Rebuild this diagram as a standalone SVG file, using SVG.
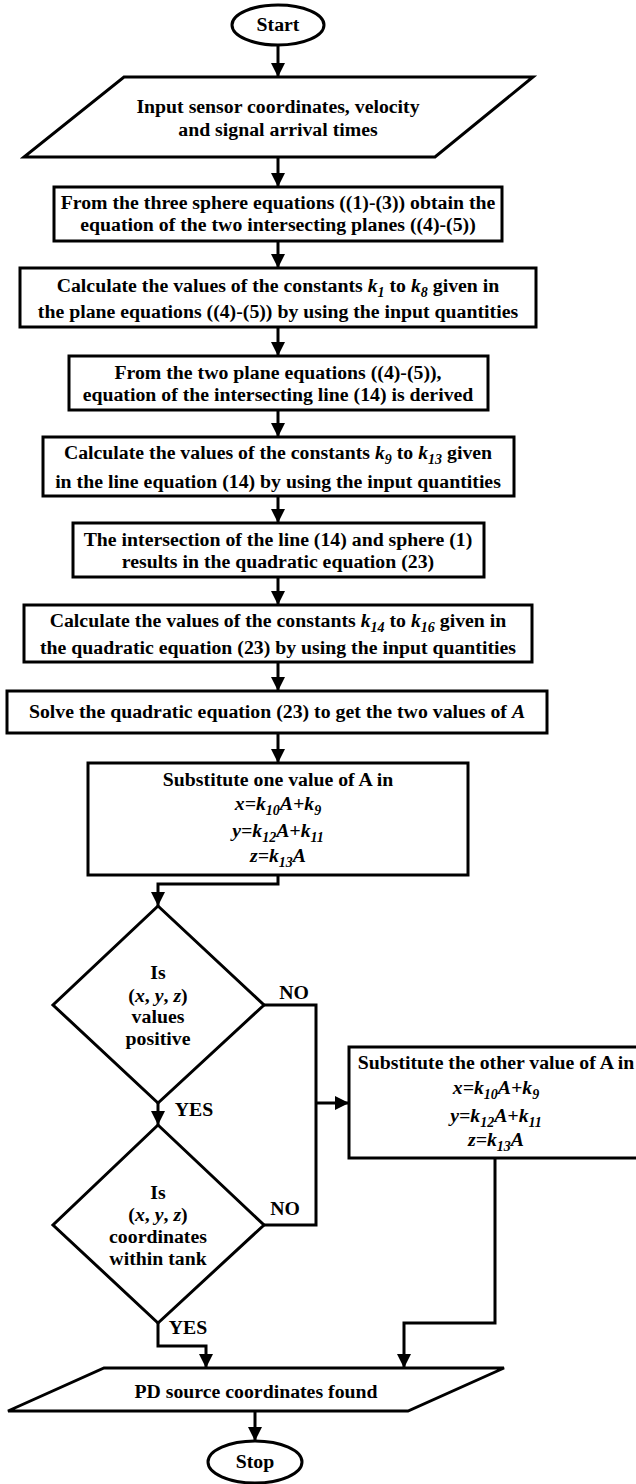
<svg xmlns="http://www.w3.org/2000/svg" width="636" height="1484" viewBox="0 0 636 1484">
<style>
  .shape{fill:#fff;stroke:#000;stroke-width:3;}
  .t{font-family:"Liberation Serif","Times New Roman",serif;font-weight:bold;font-size:19.8px;fill:#000;text-anchor:middle;}
  .i{font-style:italic;}
  .sub{font-size:14px;font-style:italic;}
  .conn{fill:none;stroke:#000;stroke-width:3;}
</style>
<defs>
  <marker id="arr" markerUnits="userSpaceOnUse" viewBox="0 0 14 14" refX="14" refY="7" markerWidth="14" markerHeight="14" orient="auto">
    <path d="M0,0 L14,7 L0,14 z" fill="#000"/>
  </marker>
</defs>
<rect width="636" height="1484" fill="#fff"/>

<g id="connectors">
  <path class="conn" d="M278,45 V77" marker-end="url(#arr)"/>
  <path class="conn" d="M278,157 V187" marker-end="url(#arr)"/>
  <path class="conn" d="M278,241 V268" marker-end="url(#arr)"/>
  <path class="conn" d="M278,327 V356" marker-end="url(#arr)"/>
  <path class="conn" d="M278,410 V437" marker-end="url(#arr)"/>
  <path class="conn" d="M278,496 V523" marker-end="url(#arr)"/>
  <path class="conn" d="M278,577 V605" marker-end="url(#arr)"/>
  <path class="conn" d="M278,662 V691" marker-end="url(#arr)"/>
  <path class="conn" d="M278,733 V763" marker-end="url(#arr)"/>
  <path class="conn" d="M278,875 V884 H158 V906" marker-end="url(#arr)"/>
  <path class="conn" d="M264,1005 H316 V1103"/>
  <path class="conn" d="M264,1225 H316 V1103"/>
  <path class="conn" d="M316,1103 H349" marker-end="url(#arr)"/>
  <path class="conn" d="M158,1103 V1125" marker-end="url(#arr)"/>
  <path class="conn" d="M158,1323 V1346 H206 V1368" marker-end="url(#arr)"/>
  <path class="conn" d="M495,1158 V1323 H404 V1368" marker-end="url(#arr)"/>
  <path class="conn" d="M255,1411 V1441" marker-end="url(#arr)"/>
  <text class="t" x="294" y="999">NO</text>
  <text class="t" x="194" y="1116">YES</text>
  <text class="t" x="285" y="1215">NO</text>
  <text class="t" x="188" y="1334">YES</text>
</g>

<g id="start">
  <ellipse class="shape" cx="278" cy="25" rx="46" ry="20"/>
  <text class="t" x="278" y="31">Start</text>
</g>

<g id="input">
  <polygon class="shape" points="124,77 533,77 435,157 24,157"/>
  <text class="t" x="278" y="113">Input sensor coordinates, velocity</text>
  <text class="t" x="278" y="136">and signal arrival times</text>
</g>

<g id="box1">
  <rect class="shape" x="54" y="187" width="448" height="54"/>
  <text class="t" x="278" y="209">From the three sphere equations ((1)-(3)) obtain the</text>
  <text class="t" x="278" y="231">equation of the two intersecting planes ((4)-(5))</text>
</g>

<g id="box2">
  <rect class="shape" x="20" y="268" width="516" height="59"/>
  <text class="t" x="278" y="292">Calculate the values of the constants <tspan class="i">k</tspan><tspan class="sub" dy="5">1</tspan><tspan dy="-5"> to </tspan><tspan class="i">k</tspan><tspan class="sub" dy="5">8</tspan><tspan dy="-5"> given in</tspan></text>
  <text class="t" x="278" y="318">the plane equations ((4)-(5)) by using the input quantities</text>
</g>

<g id="box3">
  <rect class="shape" x="69" y="356" width="419" height="54"/>
  <text class="t" x="278" y="379">From the two plane equations ((4)-(5)),</text>
  <text class="t" x="278" y="401">equation of the intersecting line (14) is derived</text>
</g>

<g id="box4">
  <rect class="shape" x="43" y="437" width="471" height="59"/>
  <text class="t" x="278" y="459">Calculate the values of the constants <tspan class="i">k</tspan><tspan class="sub" dy="5">9</tspan><tspan dy="-5"> to </tspan><tspan class="i">k</tspan><tspan class="sub" dy="5">13</tspan><tspan dy="-5"> given</tspan></text>
  <text class="t" x="278" y="488">in the line equation (14) by using the input quantities</text>
</g>

<g id="box5">
  <rect class="shape" x="73" y="523" width="411" height="54"/>
  <text class="t" x="278" y="546">The intersection of the line (14) and sphere (1)</text>
  <text class="t" x="278" y="568">results in the quadratic equation (23)</text>
</g>

<g id="box6">
  <rect class="shape" x="24" y="605" width="508" height="57"/>
  <text class="t" x="278" y="627">Calculate the values of the constants <tspan class="i">k</tspan><tspan class="sub" dy="5">14</tspan><tspan dy="-5"> to </tspan><tspan class="i">k</tspan><tspan class="sub" dy="5">16</tspan><tspan dy="-5"> given in</tspan></text>
  <text class="t" x="278" y="654">the quadratic equation (23) by using the input quantities</text>
</g>

<g id="box7">
  <rect class="shape" x="7" y="691" width="540" height="42"/>
  <text class="t" x="277" y="718">Solve the quadratic equation (23) to get the two values of <tspan class="i">A</tspan></text>
</g>

<g id="box8">
  <rect class="shape" x="88" y="763" width="380" height="112"/>
  <text class="t" x="278" y="786">Substitute one value of A in</text>
  <text class="t i" x="278" y="810">x=k<tspan class="sub" dy="5">10</tspan><tspan dy="-5">A+k</tspan><tspan class="sub" dy="5">9</tspan></text>
  <text class="t i" x="278" y="837">y=k<tspan class="sub" dy="5">12</tspan><tspan dy="-5">A+k</tspan><tspan class="sub" dy="5">11</tspan></text>
  <text class="t i" x="278" y="862">z=k<tspan class="sub" dy="5">13</tspan><tspan dy="-5">A</tspan></text>
</g>

<g id="decision1">
  <polygon class="shape" points="158,906 264,1005 158,1103 53,1005"/>
  <text class="t" x="158" y="979">Is</text>
  <text class="t" x="158" y="1002">(<tspan class="i">x</tspan>, <tspan class="i">y</tspan>, <tspan class="i">z</tspan>)</text>
  <text class="t" x="158" y="1023">values</text>
  <text class="t" x="158" y="1045">positive</text>
</g>

<g id="decision2">
  <polygon class="shape" points="158,1125 264,1225 158,1323 53,1225"/>
  <text class="t" x="158" y="1199">Is</text>
  <text class="t" x="158" y="1221">(<tspan class="i">x</tspan>, <tspan class="i">y</tspan>, <tspan class="i">z</tspan>)</text>
  <text class="t" x="158" y="1243">coordinates</text>
  <text class="t" x="158" y="1265">within tank</text>
</g>

<g id="box9">
  <rect class="shape" x="349" y="1047" width="300" height="111"/>
  <text class="t" x="496" y="1069">Substitute the other value of A in</text>
  <text class="t i" x="496" y="1094">x=k<tspan class="sub" dy="5">10</tspan><tspan dy="-5">A+k</tspan><tspan class="sub" dy="5">9</tspan></text>
  <text class="t i" x="496" y="1122">y=k<tspan class="sub" dy="5">12</tspan><tspan dy="-5">A+k</tspan><tspan class="sub" dy="5">11</tspan></text>
  <text class="t i" x="496" y="1146">z=k<tspan class="sub" dy="5">13</tspan><tspan dy="-5">A</tspan></text>
</g>

<g id="output">
  <polygon class="shape" points="104,1368 504,1368 408,1411 8,1411"/>
  <text class="t" x="256" y="1398">PD source coordinates found</text>
</g>

<g id="stop">
  <ellipse class="shape" cx="255" cy="1462" rx="47" ry="21"/>
  <text class="t" x="255" y="1468">Stop</text>
</g>
</svg>
